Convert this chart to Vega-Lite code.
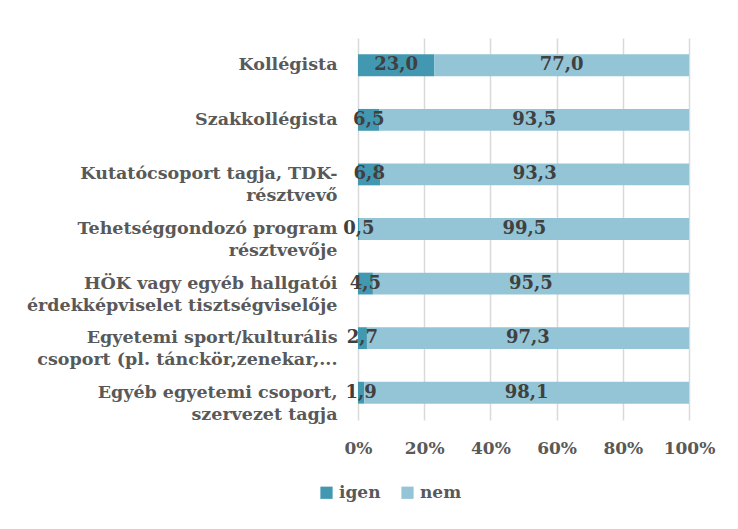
{
  "$schema": "https://vega.github.io/schema/vega-lite/v6.json",
  "width": 331,
  "height": 382,
  "autosize": {"type": "none"},
  "padding": {"left": 358, "top": 38, "right": 49, "bottom": 109},
  "background": "white",
  "config": {
    "locale": {"number": {"decimal": ",", "thousands": " ", "grouping": [3], "currency": ["", " Ft"]}},
    "font": "DejaVu Serif",
    "view": {"stroke": null}
  },
  "data": {
    "values": [
      {"group": "Kollégista", "answer": "igen", "value": 23.0},
      {"group": "Kollégista", "answer": "nem", "value": 77.0},
      {"group": "Szakkollégista", "answer": "igen", "value": 6.5},
      {"group": "Szakkollégista", "answer": "nem", "value": 93.5},
      {"group": "Kutatócsoport tagja, TDK-|résztvevő", "answer": "igen", "value": 6.8},
      {"group": "Kutatócsoport tagja, TDK-|résztvevő", "answer": "nem", "value": 93.3},
      {"group": "Tehetséggondozó program|résztvevője", "answer": "igen", "value": 0.5},
      {"group": "Tehetséggondozó program|résztvevője", "answer": "nem", "value": 99.5},
      {"group": "HÖK vagy egyéb hallgatói|érdekképviselet tisztségviselője", "answer": "igen", "value": 4.5},
      {"group": "HÖK vagy egyéb hallgatói|érdekképviselet tisztségviselője", "answer": "nem", "value": 95.5},
      {"group": "Egyetemi sport/kulturális|csoport (pl. tánckör,zenekar,...", "answer": "igen", "value": 2.7},
      {"group": "Egyetemi sport/kulturális|csoport (pl. tánckör,zenekar,...", "answer": "nem", "value": 97.3},
      {"group": "Egyéb egyetemi csoport,|szervezet tagja", "answer": "igen", "value": 1.9},
      {"group": "Egyéb egyetemi csoport,|szervezet tagja", "answer": "nem", "value": 98.1}
    ]
  },
  "transform": [
    {"stack": "value", "groupby": ["group"], "sort": [{"field": "answer", "order": "ascending"}], "offset": "normalize", "as": ["x0", "x1"]}
  ],
  "encoding": {
    "y": {
      "field": "group",
      "type": "nominal",
      "sort": null,
      "scale": {"paddingInner": 0.6, "paddingOuter": 0.3},
      "axis": {
        "title": null,
        "domain": false,
        "ticks": false,
        "grid": false,
        "labelPadding": 21,
        "labelFontSize": 17.5,
        "labelFontWeight": "bold",
        "labelColor": "#595959",
        "labelLimit": 400,
        "labelLineHeight": 22,
        "labelExpr": "split(datum.label, '|')"
      }
    }
  },
  "layer": [
    {
      "mark": {"type": "bar"},
      "encoding": {
        "x": {
          "field": "x0",
          "type": "quantitative",
          "scale": {"domain": [0, 1]},
          "axis": {
            "title": null,
            "values": [0, 0.2, 0.4, 0.6, 0.8, 1],
            "format": "%",
            "grid": true,
            "gridColor": "#d9d9d9",
            "gridWidth": 1.5,
            "domain": false,
            "ticks": false,
            "labelFlush": false,
            "labelOverlap": false,
            "labelPadding": 20,
            "labelFontSize": 17,
            "labelFontWeight": "bold",
            "labelColor": "#595959"
          }
        },
        "x2": {"field": "x1"},
        "color": {
          "field": "answer",
          "type": "nominal",
          "scale": {"domain": ["igen", "nem"], "range": ["#4298B0", "#93C5D7"]},
          "legend": {
            "title": null,
            "orient": "none",
            "legendX": -40,
            "legendY": 446,
            "direction": "horizontal",
            "symbolType": "square",
            "symbolSize": 150,
            "symbolStrokeWidth": 0,
            "labelFontSize": 17,
            "labelFontWeight": "bold",
            "labelColor": "#595959",
            "columnPadding": 18
          }
        }
      }
    },
    {
      "transform": [
        {"fold": ["x0", "x1"], "as": ["edge", "pos"]},
        {"aggregate": [{"op": "mean", "field": "pos", "as": "mid"}], "groupby": ["group", "answer", "value"]}
      ],
      "mark": {"type": "text", "fontSize": 18, "fontWeight": "bold", "color": "#404040"},
      "encoding": {
        "x": {"field": "mid", "type": "quantitative"},
        "text": {"field": "value", "type": "quantitative", "format": ".1f"}
      }
    }
  ]
}
